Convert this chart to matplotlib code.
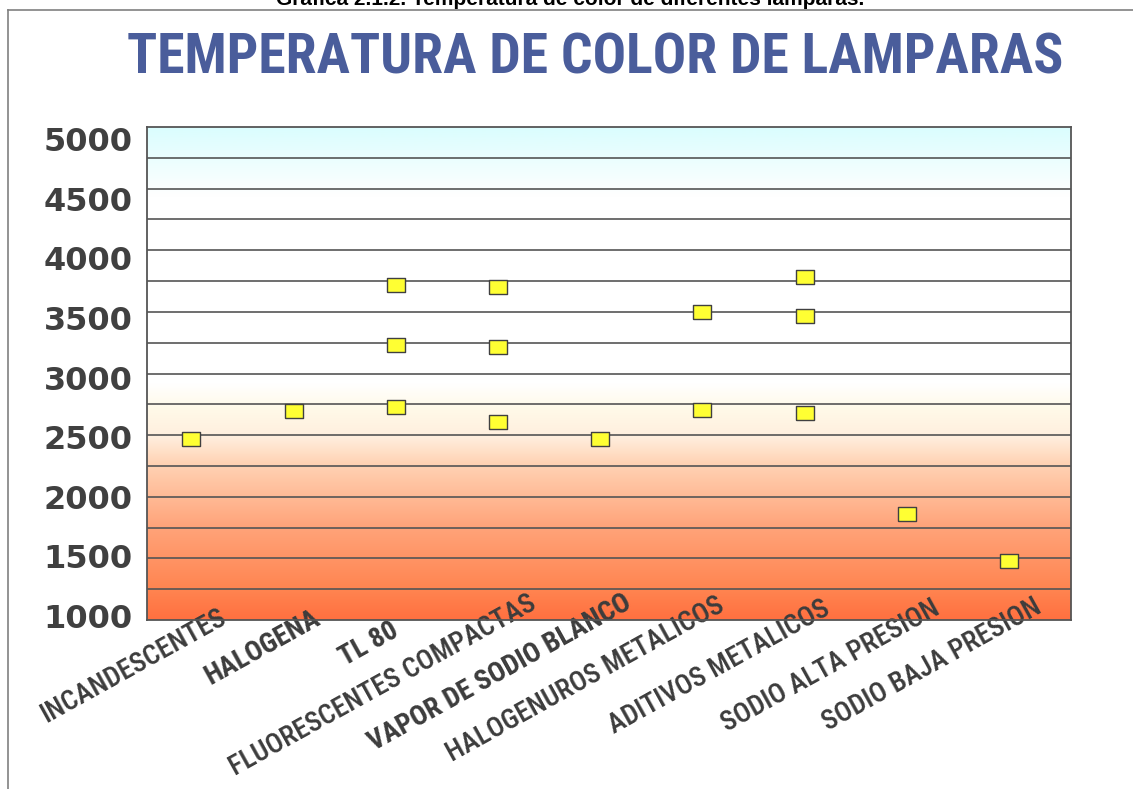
import os
import numpy as np
import matplotlib
matplotlib.use("Agg")
import matplotlib.pyplot as plt
from matplotlib import font_manager as fm
from matplotlib.colors import to_rgb
from matplotlib.lines import Line2D
from matplotlib.transforms import offset_copy, blended_transform_factory

# ---- data -------------------------------------------------------------
lamps = [
    "INCANDESCENTES",
    "HALOGENA",
    "TL 80",
    "FLUORESCENTES COMPACTAS",
    "VAPOR DE SODIO BLANCO",
    "HALOGENUROS METALICOS",
    "ADITIVOS METALICOS",
    "SODIO ALTA PRESION",
    "SODIO BAJA PRESION",
]
# colour temperatures (K) for each lamp type; some types come in several tones
temp_incandescentes = [2484]
temp_halogena = [2723]
temp_tl80 = [3776, 3270, 2755]
temp_fluor_compactas = [3761, 3258, 2624]
temp_vapor_sodio_blanco = [2488]
temp_halogenuros = [3549, 2727]
temp_aditivos = [3845, 3518, 2705]
temp_sodio_alta = [1855]
temp_sodio_baja = [1461]
temperatures = [
    temp_incandescentes, temp_halogena, temp_tl80, temp_fluor_compactas,
    temp_vapor_sodio_blanco, temp_halogenuros, temp_aditivos,
    temp_sodio_alta, temp_sodio_baja,
]
y_ticks = [1000, 1500, 2000, 2500, 3000, 3500, 4000, 4500, 5000]


# ---- fonts: prefer a narrow sans (Arial Narrow look-alike) -------------
def narrow_font(candidates, fallback_weight):
    files = {os.path.basename(f.fname): f.fname for f in fm.fontManager.ttflist}
    for name in candidates:
        if name in files:
            return fm.FontProperties(fname=files[name])
    return fm.FontProperties(family="Roboto", weight=fallback_weight)


narrow_bold = narrow_font(
    ["LiberationSansNarrow-Bold.ttf", "RobotoCondensed-Bold.ttf",
     "NotoSans-CondensedBold.ttf", "OpenSans-CondensedBold.ttf",
     "DejaVuSansCondensed-Bold.ttf"], "bold")
narrow_reg = narrow_font(
    ["LiberationSansNarrow-Regular.ttf", "RobotoCondensed-Medium.ttf",
     "RobotoCondensed-Regular.ttf", "NotoSans-CondensedMedium.ttf",
     "NotoSans-Condensed.ttf", "NotoSans-CondensedRegular.ttf",
     "OpenSans-CondensedRegular.ttf", "DejaVuSansCondensed.ttf"], "medium")

# ---- layout / style ---------------------------------------------------
W, H, DPI = 1133, 789, 100
bold_labels = {"HALOGENA", "TL 80", "VAPOR DE SODIO BLANCO"}
# per-label nudges (pixels: right, down) of the label end from the category
label_nudge = [(36, 2), (28, 3), (4, 15), (40, -12), (33, -13),
               (24, -10), (27, -7), (35, -7), (34, -8)]

fig = plt.figure(figsize=(W / DPI, H / DPI), dpi=DPI)
fig.patch.set_facecolor("white")
renderer = fig.canvas.get_renderer()


def fit_size(text_artist, target_px):
    """Scale a text's font size so its unrotated width is target_px."""
    size = text_artist.get_fontsize()
    w = text_artist.get_window_extent(renderer).width
    text_artist.set_fontsize(size * target_px / w)
    return text_artist.get_fontsize()


left, right, top, bottom = 147, 1071, 127, 620
ax = fig.add_axes([left / W, 1 - bottom / H, (right - left) / W, (bottom - top) / H])
ax.set_xlim(-0.435, 8.606)
ax.set_ylim(966.5, 5100.6)

# background gradient: cool cyan at the top, white, then warm orange below
stops = [
    (0.00, "#ff7040"),
    (0.06, "#ff8450"),
    (0.19, "#ffa47a"),
    (0.32, "#ffd4b6"),
    (0.37, "#ffeedd"),
    (0.43, "#fffae9"),
    (0.48, "#ffffff"),
    (0.86, "#ffffff"),
    (0.94, "#eafefe"),
    (1.00, "#dafdfe"),
]
fr = np.linspace(0, 1, 600)
pos = [s[0] for s in stops]
cols = np.array([to_rgb(s[1]) for s in stops])
grad = np.stack([np.interp(fr, pos, cols[:, c]) for c in range(3)], axis=1)
ax.imshow(grad[::-1][:, None, :], extent=[0, 1, 0, 1], transform=ax.transAxes,
          aspect="auto", zorder=0, interpolation="bilinear")

# horizontal rules dividing the plot into 16 bands
ax.hlines([k / 16 for k in range(1, 16)], 0, 1, transform=ax.transAxes,
          colors="#555555", linewidth=1.2, zorder=1)

# markers
rect_marker = [(-1, -0.78), (1, -0.78), (1, 0.78), (-1, 0.78), (-1, -0.78)]
for i, vals in enumerate(temperatures):
    ax.plot([i] * len(vals), vals, linestyle="none", marker=rect_marker,
            markersize=12.5, markerfacecolor="#ffff33",
            markeredgecolor="#404040", markeredgewidth=1.0, zorder=3,
            clip_on=False)

for sp in ax.spines.values():
    sp.set_color("#555555")
    sp.set_linewidth(1.3)
    sp.set_zorder(4)

ax.set_yticks(y_ticks)
ax.set_yticklabels([str(v) for v in y_ticks], fontfamily="DejaVu Sans",
                   fontweight="bold", fontsize=23, color="#404040")
ax.tick_params(axis="y", length=0, pad=10.5)
ax.set_xticks([])

# category labels, rotated
base = blended_transform_factory(ax.transData, ax.transAxes)
probe = fig.text(0, 0, "SODIO BAJA PRESION", fontproperties=narrow_reg,
                 fontsize=20)
label_size = fit_size(probe, 246)
probe.remove()
for i, name in enumerate(lamps):
    dx, dy = label_nudge[i]
    tr = offset_copy(base, fig=fig, x=dx, y=-dy, units="dots")
    fp = narrow_bold if name in bold_labels else narrow_reg
    ax.text(i, 0, name, transform=tr, rotation=29, rotation_mode="anchor",
            ha="right", va="baseline", fontproperties=fp,
            fontsize=label_size, color="#3c3c3c", clip_on=False)

# chart heading
heading = fig.text(595 / W, 1 - 73 / H, "TEMPERATURA DE COLOR DE LAMPARAS",
                   ha="center", va="baseline", color="#4a5d9b",
                   fontproperties=narrow_bold, fontsize=40)
fit_size(heading, 935)

# caption above the frame
fig.text(570 / W, 1 - 5 / H,
         "Gráfica 2.1.2. Temperatura de color de diferentes lámparas.",
         ha="center", va="baseline", color="black", fontsize=15,
         fontweight="bold", fontfamily="Liberation Sans")

# outer frame (left and top edges)
fig.add_artist(Line2D([8 / W, 8 / W], [0, 1 - 10 / H], transform=fig.transFigure,
                      color="#808080", linewidth=1.2))
fig.add_artist(Line2D([8 / W, 1], [1 - 10 / H, 1 - 10 / H],
                      transform=fig.transFigure, color="#808080", linewidth=1.2))

fig.savefig("out.png", dpi=DPI)
